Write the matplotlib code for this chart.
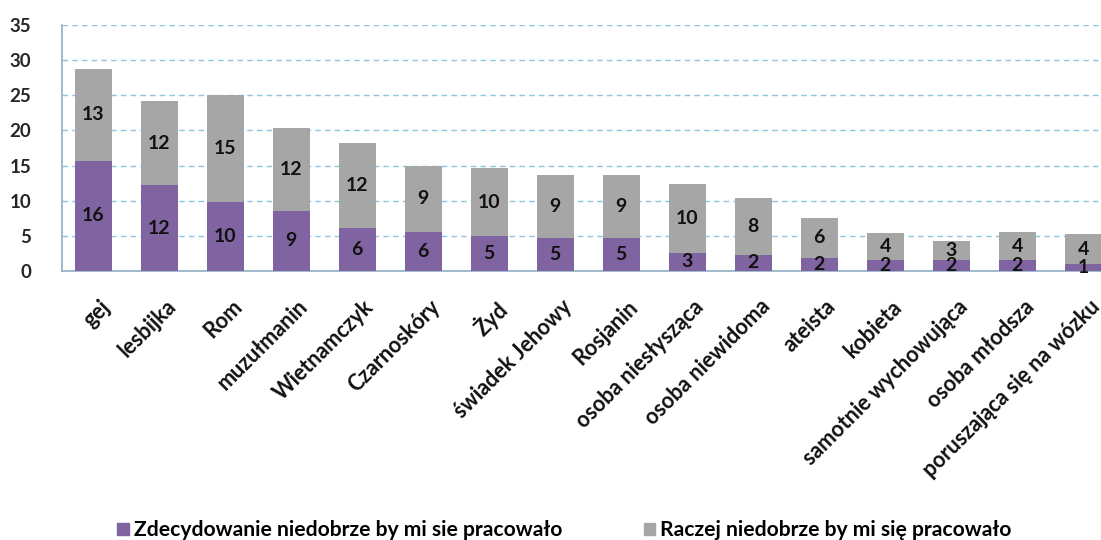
import matplotlib
matplotlib.use("Agg")
import matplotlib.pyplot as plt
import matplotlib.transforms as mtransforms
from matplotlib.patches import Patch
import numpy as np

categories = [
    "gej", "lesbijka", "Rom", "muzułmanin", "Wietnamczyk", "Czarnoskóry",
    "Żyd", "świadek Jehowy", "Rosjanin", "osoba niesłysząca",
    "osoba niewidoma", "ateista", "kobieta", "samotnie wychowująca",
    "osoba młodsza", "poruszająca się na wózku",
]
zdecydowanie = [15.7, 12.2, 9.8, 8.6, 6.1, 5.6, 5.0, 4.7, 4.7, 2.6, 2.3,
                1.9, 1.6, 1.5, 1.5, 1.05]
raczej = [13.1, 12.0, 15.2, 11.8, 12.1, 9.3, 9.6, 9.0, 9.0, 9.75, 8.1,
          5.6, 3.8, 2.7, 4.1, 4.15]
series_labels = ["Zdecydowanie niedobrze by mi sie pracowało",
                 "Raczej niedobrze by mi się pracowało"]
y_ticks = [0, 5, 10, 15, 20, 25, 30, 35]

PURPLE = "#8064A2"
GREY = "#A6A6A6"
GRID = "#8CC6E0"
AXIS = "#8FB0C4"
FONT = "Lato"

W, H = 1101, 540
fig = plt.figure(figsize=(W / 100, H / 100), dpi=100)
ax = fig.add_axes([62 / W, (H - 271) / H, 1 - 62 / W, (271 - 25) / H])

x = np.arange(len(categories))
a = np.array(zdecydowanie)
b = np.array(raczej)
bw = 0.56
ax.bar(x, a, width=bw, color=PURPLE, zorder=3)
ax.bar(x, b, width=bw, bottom=a, color=GREY, zorder=3)

for xi, va, vb in zip(x, a, b):
    ax.text(xi, va / 2, f"{va:.0f}", ha="center", va="center",
            fontsize=14, fontweight="bold", family=FONT, color="#111111", zorder=4)
    ax.text(xi, va + vb / 2, f"{vb:.0f}", ha="center", va="center",
            fontsize=14, fontweight="bold", family=FONT, color="#111111", zorder=4)

ax.set_ylim(0, 35)
ax.set_xlim(-0.474, 15.27)
ax.set_yticks(y_ticks)
ax.set_yticklabels([str(t) for t in y_ticks], fontsize=13.5, fontweight="bold",
                   family=FONT, color="#262626")
ax.tick_params(axis="y", length=0, pad=22)
ax.set_xticks(x)
ax.set_xticklabels(categories, rotation=45, ha="right", rotation_mode="anchor",
                   fontsize=15.5, fontweight="bold", family=FONT, color="#111111")
ax.tick_params(axis="x", length=0, pad=18)
shift = mtransforms.ScaledTranslation(6 / 100, 0, fig.dpi_scale_trans)
for lab in ax.get_xticklabels():
    lab.set_transform(lab.get_transform() + shift)

ax.yaxis.grid(True, linestyle=(0, (4, 3)), color=GRID, linewidth=1.0, zorder=0)
ax.set_axisbelow(True)
for side in ("top", "right"):
    ax.spines[side].set_visible(False)
ax.spines["left"].set_color(AXIS)
ax.spines["bottom"].set_color(AXIS)
ax.spines["left"].set_linewidth(1.2)
ax.spines["bottom"].set_linewidth(1.2)

handles = [Patch(color=PURPLE), Patch(color=GREY)]
fig.legend(handles, series_labels, loc="lower left", ncol=2,
           bbox_to_anchor=(98 / W, -0.036), frameon=False,
           prop={"family": FONT, "size": 15.2, "weight": "bold"},
           handlelength=0.55, handleheight=0.55, handletextpad=0.25,
           columnspacing=3.85)

fig.savefig("out.png", dpi=100, facecolor="white")
